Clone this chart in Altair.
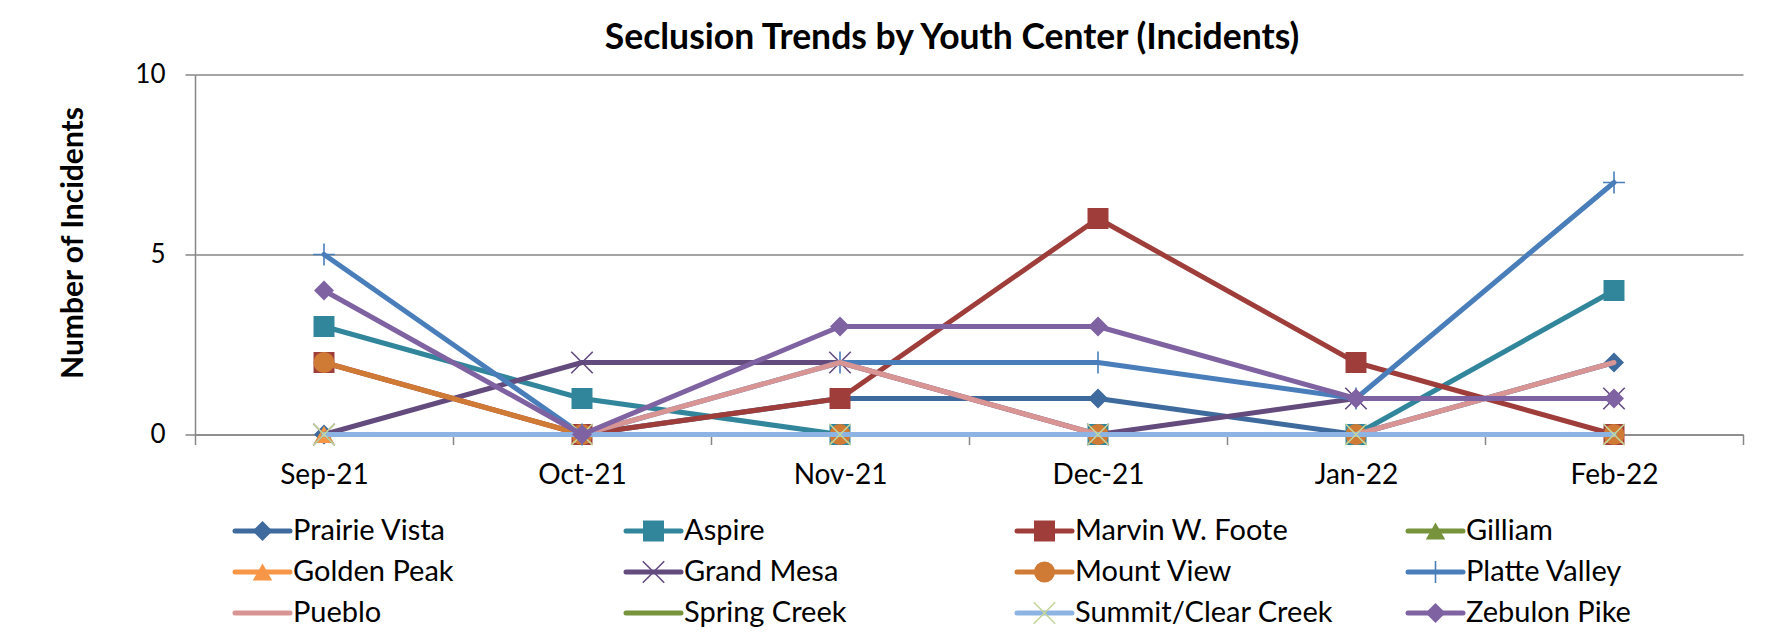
import altair as alt
import pandas as pd

# ---------------- data ----------------
months = ["Sep-21", "Oct-21", "Nov-21", "Dec-21", "Jan-22", "Feb-22"]
centers = ["Prairie Vista", "Aspire", "Marvin W. Foote", "Gilliam",
           "Golden Peak", "Grand Mesa", "Mount View", "Platte Valley",
           "Pueblo", "Spring Creek", "Summit/Clear Creek", "Zebulon Pike"]

prairie_vista = [0, 0, 1, 1, 0, 2]
aspire = [3, 1, 0, 0, 0, 4]
marvin_w_foote = [2, 0, 1, 6, 2, 0]
gilliam = [0, 0, 0, 0, 0, 0]
golden_peak = [0, 0, 0, 0, 0, 0]
grand_mesa = [0, 2, 2, 0, 1, 1]
mount_view = [2, 0, 0, 0, 0, 0]
platte_valley = [5, 0, 2, 2, 1, 7]
pueblo = [0, 0, 2, 0, 0, 2]
spring_creek = [0, 0, 0, 0, 0, 0]
summit_clear_creek = [0, 0, 0, 0, 0, 0]
zebulon_pike = [4, 0, 3, 3, 1, 1]

series_values = [prairie_vista, aspire, marvin_w_foote, gilliam, golden_peak,
                 grand_mesa, mount_view, platte_valley, pueblo, spring_creek,
                 summit_clear_creek, zebulon_pike]

y_ticks = [0, 5, 10]

# ---------------- styles ----------------
line_colors = ["#3E6A9E", "#31869C", "#9E3D3A", "#77933C", "#F79646", "#634B7E",
               "#CF7A35", "#4A7EBB", "#D99594", "#77933C", "#8DB3E2", "#7F62A1"]
X_PATH = "M-1,-1L1,1M1,-1L-1,1"
PLUS_PATH = "M0,-1L0,1M-1,0L1,0"
marker_shapes = ["diamond", "square", "square", "triangle-up", "triangle-up", X_PATH,
                 "circle", PLUS_PATH, None, None, X_PATH, "diamond"]
marker_filled = [True, True, True, True, True, False, True, False, None, None, False, True]
marker_sizes = [400, 440, 440, 380, 380, 460, 440, 480, 0, 0, 460, 400]
marker_colors = ["#3E6A9E", "#31869C", "#9E3D3A", "#77933C", "#F79646", "#634B7E",
                 "#CF7A35", "#4A7EBB", None, None, "#C3D69B", "#7F62A1"]

FONT = "Lato"
GRAY = "#878787"
LINE_W = 5
NO_FRAME = alt.ViewBackground(stroke="transparent", strokeWidth=0, fill="white")

rows = []
for name, vals in zip(centers, series_values):
    for m, v in zip(months, vals):
        rows.append({"center": name, "month": m, "incidents": v})
df = pd.DataFrame(rows)

color_enc = alt.Color("center:N", scale=alt.Scale(domain=centers, range=line_colors), legend=None)

x_enc = alt.X(
    "month:N", sort=months,
    scale=alt.Scale(type="band", domain=months, paddingInner=0, paddingOuter=0),
    axis=alt.Axis(title=None, labelAngle=0, tickBand="extent", grid=False,
                  domainColor=GRAY, domainWidth=1.5, tickColor=GRAY, tickWidth=1.5,
                  tickSize=10, labelFont=FONT, labelFontSize=28, labelColor="black",
                  labelPadding=16.5),
)
y_enc = alt.Y(
    "incidents:Q",
    scale=alt.Scale(domain=[0, 10], nice=False),
    axis=alt.Axis(values=y_ticks, title="Number of Incidents", grid=True,
                  gridColor=GRAY, gridWidth=1.5, domainColor=GRAY, domainWidth=1.5,
                  tickColor=GRAY, tickWidth=1.5, tickSize=10,
                  labelFont=FONT, labelFontSize=26, labelColor="black", labelPadding=20,
                  titleFont=FONT, titleFontSize=30, titleFontWeight="bold",
                  titleColor="black", titlePadding=46, titleY=168),
)

layers = []
for i, name in enumerate(centers):
    sub = alt.Chart(df).transform_filter(alt.datum.center == name)
    layers.append(
        sub.mark_line(strokeWidth=LINE_W, strokeCap="round", strokeJoin="round")
        .encode(x=x_enc, y=y_enc, color=color_enc)
    )
    if marker_shapes[i]:
        kw = dict(shape=marker_shapes[i], size=marker_sizes[i], opacity=1)
        if marker_filled[i]:
            kw.update(filled=True)
        else:
            kw.update(filled=False, strokeWidth=1.6)
        layers.append(
            sub.mark_point(**kw).encode(x=x_enc, y=y_enc, color=alt.value(marker_colors[i]))
        )

main = alt.layer(*layers).properties(
    width=1548, height=360, view=NO_FRAME,
    title=alt.TitleParams(
        text="Seclusion Trends by Youth Center (Incidents)",
        font=FONT, fontSize=35.5, fontWeight="bold", color="black",
        anchor="middle", dx=-17, offset=5.5,
    ),
)

# ---------------- legend ----------------
leg_df = pd.DataFrame({
    "center": centers,
    "col": [i % 4 for i in range(len(centers))],
    "row": [i // 4 for i in range(len(centers))],
})
lx = alt.X("col:Q", scale=alt.Scale(domain=[0, 4], nice=False, zero=True), axis=None)
ly = alt.Y("row:O", axis=None)

leg_layers = [
    alt.Chart(leg_df).mark_rule(strokeWidth=LINE_W, strokeCap="round", xOffset=40, x2Offset=95)
    .encode(x=lx, x2="col:Q", y=ly, color=color_enc)
]
for i, name in enumerate(centers):
    if marker_shapes[i]:
        kw = dict(shape=marker_shapes[i], size=marker_sizes[i], opacity=1, xOffset=67.5)
        if marker_filled[i]:
            kw.update(filled=True)
        else:
            kw.update(filled=False, strokeWidth=1.6)
        leg_layers.append(
            alt.Chart(leg_df).transform_filter(alt.datum.center == name)
            .mark_point(**kw).encode(x=lx, y=ly, color=alt.value(marker_colors[i]))
        )
leg_layers.append(
    alt.Chart(leg_df).mark_text(align="left", baseline="middle", xOffset=98,
                                font=FONT, fontSize=29, color="black")
    .encode(x=lx, y=ly, text="center:N")
)
legend = alt.layer(*leg_layers).properties(width=1564, height=123, view=NO_FRAME)

chart = (
    alt.vconcat(main, legend, spacing=21)
    .properties(padding={"left": 50, "top": 12.5, "right": 0, "bottom": 0})
    .configure_view(strokeWidth=0, stroke="transparent")
    .configure(background="white")
)

chart.save("out.html", embed_options={"renderer": "svg", "actions": False})
